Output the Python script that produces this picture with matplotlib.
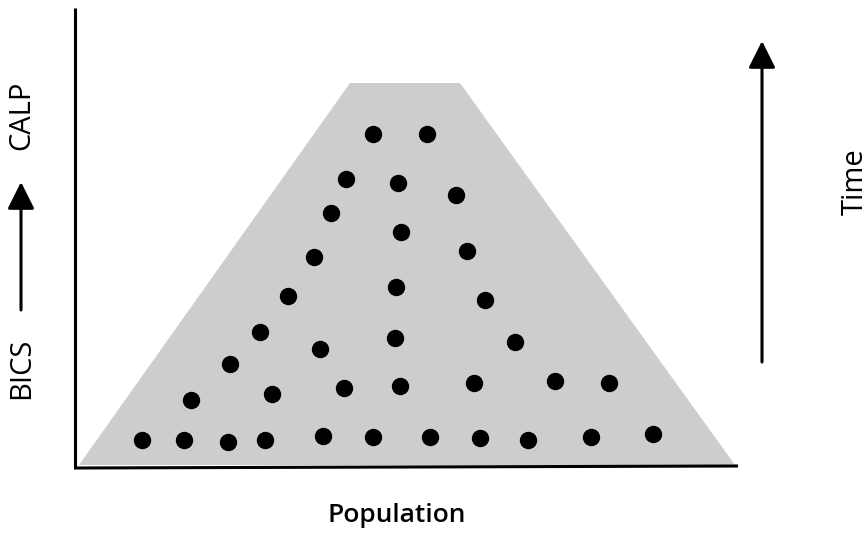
import matplotlib
matplotlib.use("Agg")
import matplotlib.pyplot as plt
from matplotlib.patches import Polygon, FancyArrowPatch

# canvas units are pixels of the 868x536 picture, y grows downwards
plt.rcParams['font.family'] = ['Open Sans', 'DejaVu Sans']

# grey trapezoid (corners)
trap_x = [79, 735, 460, 350]
trap_y = [465, 465, 83, 83]

# the dots, row by row from the top
dot_x = [373, 427,
         346, 398, 456,
         331, 401, 467,
         314, 396, 485,
         288, 395, 515,
         260, 320,
         230,
         191, 272, 344, 400, 474, 555, 609,
         142, 184, 228, 265, 323, 373, 430, 480, 528, 591, 653]
dot_y = [134, 134,
         179, 183, 195,
         213, 232, 251,
         257, 287, 300,
         296, 338, 342,
         332, 349,
         364,
         400, 394, 388, 386, 383, 381, 383,
         440, 440, 442, 440, 436, 437, 437, 438, 440, 437, 434]

fig = plt.figure(figsize=(8.68, 5.36), dpi=100)
ax = fig.add_axes([0, 0, 1, 1])
ax.set_xlim(0, 868)
ax.set_ylim(536, 0)
ax.axis('off')

ax.add_patch(Polygon(list(zip(trap_x, trap_y)), closed=True,
                     facecolor='#cdcdcd', edgecolor='none', zorder=1))
ax.plot(dot_x, dot_y, 'o', color='black', markersize=11.5, zorder=3)

# axis lines
ax.plot([75, 75], [8, 468], color='black', lw=2.2, solid_capstyle='butt', zorder=4)
ax.plot([74, 738], [468, 466], color='black', lw=2.2, solid_capstyle='butt', zorder=4)

# arrows
for x0, y0, y1 in [(762, 362, 41), (21, 310, 182)]:
    ax.add_patch(FancyArrowPatch((x0, y0), (x0, y1),
                                 arrowstyle='-|>,head_length=1.6,head_width=0.8',
                                 mutation_scale=10.3, color='black', lw=2.2,
                                 shrinkA=0, shrinkB=0, zorder=4))

ax.text(22, 115, 'CALP', rotation=90, ha='center', va='center', fontsize=21,
        fontweight='medium')
ax.text(22, 368, 'BICS', rotation=90, ha='center', va='center', fontsize=21,
        fontweight='medium')
ax.text(855, 182, 'Time', rotation=90, ha='center', va='center', fontsize=21,
        fontweight='medium')
ax.text(397, 516, 'Population', ha='center', va='center', fontsize=19,
        fontweight='semibold')

fig.savefig('out.png', dpi=100)
